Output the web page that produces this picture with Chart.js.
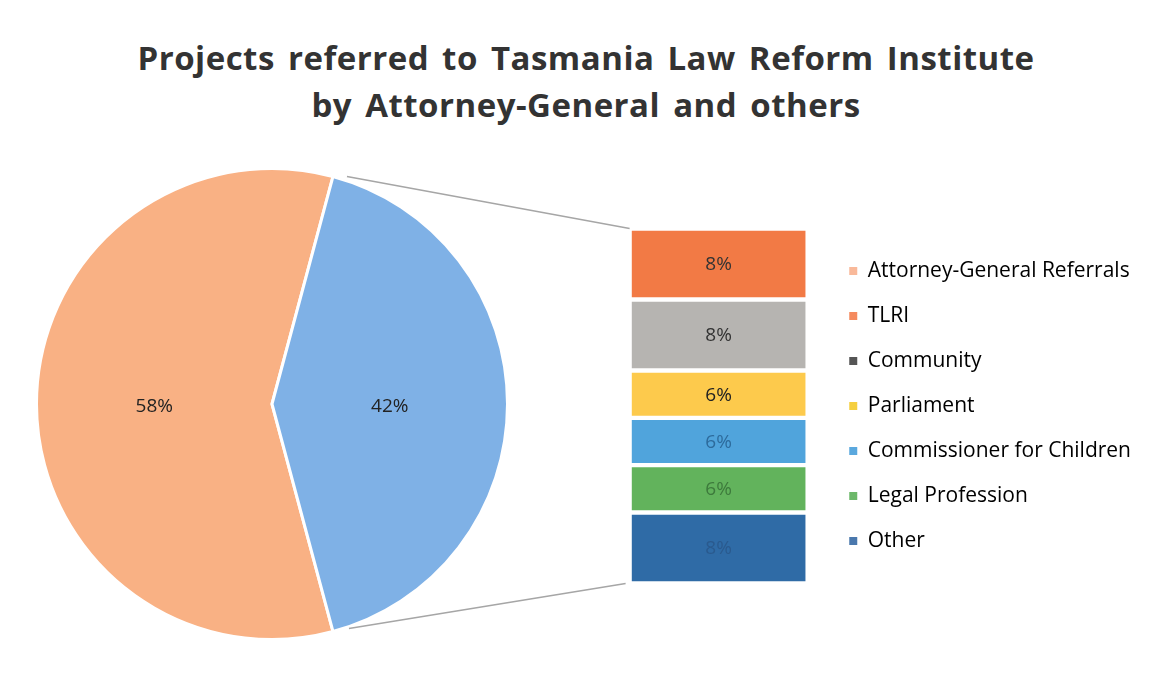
<!DOCTYPE html>
<html>
<head>
<meta charset="utf-8">
<script src="https://cdn.jsdelivr.net/npm/chart.js@4.4.0/dist/chart.umd.min.js"></script>
<style>
    html, body { margin: 0; padding: 0; background: #fff; }
    body { width: 1160px; height: 685px; position: relative; overflow: hidden; font-family: "Open Sans", sans-serif; }
    #title {
        position: absolute; left: 0; top: 34px; width: 1172px;
        text-align: center; font-weight: 700; font-size: 33px; line-height: 47px; color: #333333;
        letter-spacing: 0.5px; word-spacing: 4px;
    }
    #pieChart { position: absolute; left: 35px; top: 167px; }
    #barChart { position: absolute; left: 612px; top: 210px; }
    #connectors { position: absolute; left: 0; top: 0; pointer-events: none; }
</style>
</head>
<body>
<div id="title">Projects referred to Tasmania Law Reform Institute<br>by Attorney-General and others</div>
<canvas id="pieChart" width="474" height="474"></canvas>
<canvas id="barChart" width="529" height="400"></canvas>
<canvas id="connectors" width="1160" height="685"></canvas>

<script>
// number of projects referred, by source
const mainCategory = 'Attorney-General Referrals';
const mainCount = 21;

const otherCategories = ['TLRI', 'Community', 'Parliament', 'Commissioner for Children', 'Legal Profession', 'Other'];
const otherCounts = [3, 3, 2, 2, 2, 3];

const mainColor = '#f9b184';
const groupColor = '#7fb1e6';
const otherColors = ['#f27a45', '#b6b4b1', '#fdca4c', '#50a4dc', '#62b35c', '#2f6ba6'];
const markerColors = ['#f9b99a', '#f58a5e', '#555555', '#f5cf3f', '#5aa8de', '#6cb86a', '#4a78ad'];
const otherLabelColors = ['#333333', '#333333', '#222222', '#2d6b9c', '#3d7a3c', '#2a5a8e'];

const total = mainCount + otherCounts.reduce((a, b) => a + b, 0);
const pct = v => Math.round(v / total * 100) + '%';

Chart.defaults.font.family = '"Open Sans", sans-serif';
Chart.defaults.animation = false;

const pieLabels = {
    id: 'pieLabels',
    afterDatasetsDraw(chart) {
        const ctx = chart.ctx;
        const meta = chart.getDatasetMeta(0);
        ctx.save();
        ctx.font = '19px "Open Sans", sans-serif';
        ctx.fillStyle = '#222';
        ctx.textAlign = 'center';
        ctx.textBaseline = 'middle';
        meta.data.forEach((arc, i) => {
            const p = arc.tooltipPosition();
            ctx.fillText(pct(chart.data.datasets[0].data[i]), p.x, p.y + 3);
        });
        ctx.restore();
    }
};

const barLabels = {
    id: 'barLabels',
    afterDatasetsDraw(chart) {
        const ctx = chart.ctx;
        ctx.save();
        ctx.font = '19px "Open Sans", sans-serif';
        ctx.textAlign = 'center';
        ctx.textBaseline = 'middle';
        chart.data.datasets.forEach((ds, i) => {
            const bar = chart.getDatasetMeta(i).data[0];
            ctx.fillStyle = otherLabelColors[i];
            ctx.fillText(pct(ds.data[0]), bar.x, (bar.y + bar.base) / 2 + 1);
        });
        ctx.restore();
    }
};

const pie = new Chart(document.getElementById('pieChart'), {
    type: 'pie',
    data: {
        labels: [mainCategory, 'Others'],
        datasets: [{
            data: [mainCount, otherCounts.reduce((a, b) => a + b, 0)],
            backgroundColor: [mainColor, groupColor],
            borderColor: '#ffffff',
            borderWidth: 3,
            hoverOffset: 0
        }]
    },
    options: {
        responsive: false,
        rotation: 165,
        events: [],
        plugins: { legend: { display: false }, tooltip: { enabled: false } }
    },
    plugins: [pieLabels]
});

const bar = new Chart(document.getElementById('barChart'), {
    type: 'bar',
    data: {
        labels: ['Others'],
        datasets: otherCategories.map((name, i) => ({
            label: name,
            data: [otherCounts[i]],
            backgroundColor: otherColors[i],
            borderColor: '#ffffff',
            borderWidth: 2.5,
            borderSkipped: false,
            barThickness: 178
        }))
    },
    options: {
        responsive: false,
        events: [],
        layout: { padding: { top: 18.5, bottom: 26.5, left: 0, right: 0 } },
        scales: {
            x: { stacked: true, display: false },
            y: { stacked: true, display: false, reverse: true, min: 0, max: total - mainCount }
        },
        plugins: {
            tooltip: { enabled: false },
            legend: {
                position: 'right',
                maxWidth: 400,
                labels: {
                    boxWidth: 8,
                    boxHeight: 8,
                    padding: 24,
                    color: '#3c3c3c',
                    font: { size: 21 },
                    generateLabels: () => [mainCategory].concat(otherCategories).map((name, i) => ({
                        text: name,
                        fillStyle: markerColors[i],
                        strokeStyle: markerColors[i],
                        lineWidth: 0,
                        hidden: false
                    }))
                }
            }
        }
    },
    plugins: [barLabels]
});

// connector lines from the grouped slice to the stacked bar
function drawConnectors() {
    const ctx = document.getElementById('connectors').getContext('2d');
    const pieBox = pie.canvas.getBoundingClientRect();
    const barBox = bar.canvas.getBoundingClientRect();
    const arc = pie.getDatasetMeta(0).data[1];
    const r = arc.outerRadius;
    const start = { x: pieBox.left + arc.x + r * Math.cos(arc.startAngle), y: pieBox.top + arc.y + r * Math.sin(arc.startAngle) };
    const end = { x: pieBox.left + arc.x + r * Math.cos(arc.endAngle), y: pieBox.top + arc.y + r * Math.sin(arc.endAngle) };
    const topBar = bar.getDatasetMeta(0).data[0];
    const bottomBar = bar.getDatasetMeta(otherCategories.length - 1).data[0];
    const left = barBox.left + topBar.x - topBar.width / 2;
    const top = barBox.top + Math.min(topBar.y, topBar.base);
    const bottom = barBox.top + Math.max(bottomBar.y, bottomBar.base);

    ctx.strokeStyle = '#a6a6a6';
    ctx.lineWidth = 1.5;
    ctx.beginPath();
    ctx.moveTo(start.x + 14, start.y);
    ctx.lineTo(left, top);
    ctx.moveTo(end.x + 16, end.y - 3);
    ctx.lineTo(left - 4, bottom);
    ctx.stroke();
}
drawConnectors();
</script>
</body>
</html>
